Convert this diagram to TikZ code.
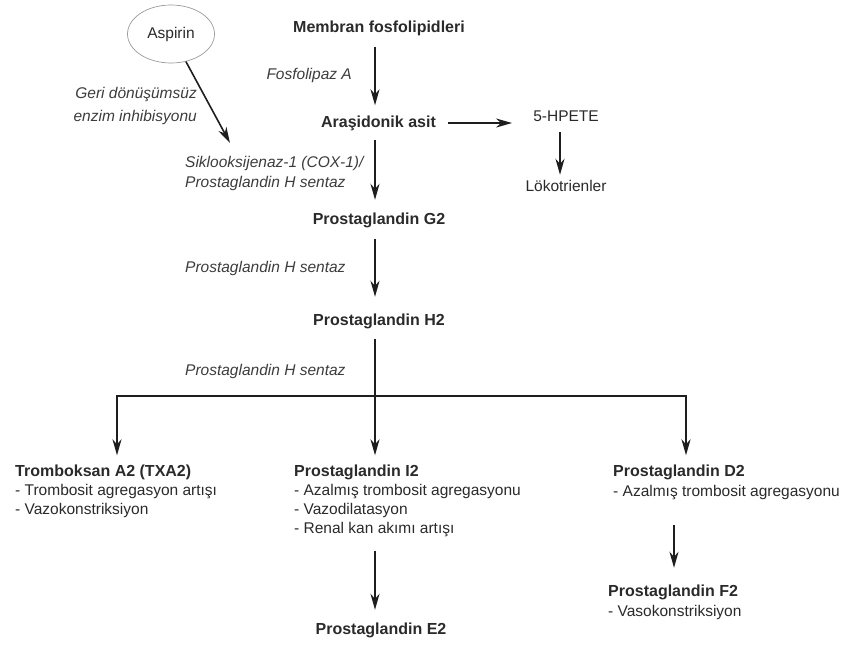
\documentclass[tikz,border=0pt]{standalone}
\usepackage{fontspec}
\setmainfont{Liberation Sans}
\usetikzlibrary{arrows.meta,shapes.geometric}
\definecolor{ink}{HTML}{1E1E1E}
\definecolor{txt}{HTML}{2A2A2A}
\definecolor{ital}{HTML}{3C3C3C}
\tikzset{
  every node/.style={inner sep=0pt, text height=12pt, text depth=3pt},
  title/.style={font=\fontsize{16}{19}\selectfont\bfseries, text=txt},
  plain/.style={font=\fontsize{15.5}{19}\selectfont, text=txt},
  enz/.style={font=\fontsize{15.5}{19}\selectfont\itshape, text=ital},
  arr/.style={draw=ink, line width=2pt, -{Stealth[length=16pt,width=9pt,inset=5pt]}},
  ln/.style={draw=ink, line width=2pt},
}
\begin{document}
\begin{tikzpicture}[x=1pt,y=-1pt]
\useasboundingbox (0,0) rectangle (850,646);
\coordinate (sp) at (375,0);
\coordinate (dx) at (674,0);
% top chain
\node[ellipse, draw=gray!80, line width=0.7pt, minimum width=87pt, minimum height=58pt, font=\fontsize{15.5}{19}\selectfont, text=txt] (asp) at (171,34) {Aspirin};
\node[title] (mem) at (379,28) {Membran fosfolipidleri};
\node[enz, anchor=east] (fos) at (352,75) {Fosfolipaz A};
\node[title] (ara) at (378.5,123) {Araşidonik asit};
\node[plain] (hpe) at (566,117) {5-HPETE};
\node[plain] (lok) at (566,187) {Lökotrienler};
\node[enz, anchor=east] (geri1) at (197,94) {Geri dönüşümsüz};
\node[enz, anchor=east] (geri2) at (197,117) {enzim inhibisyonu};
\coordinate (inh) at (230,143);
\node[enz, anchor=west] (cox1) at (185,163) {Siklooksijenaz-1 (COX-1)/};
\node[enz, anchor=west] (cox2) at (185,183) {Prostaglandin H sentaz};
\node[title] (g2) at (379,220) {Prostaglandin G2};
\node[enz, anchor=west] (phs1) at (185,268) {Prostaglandin H sentaz};
\node[title] (h2) at (379,321) {Prostaglandin H2};
\node[enz, anchor=west] (phs2) at (185,371) {Prostaglandin H sentaz};
\coordinate (j) at (375,396);
\coordinate (jl) at (117,396);
\coordinate (jr) at (686,396);
% bottom left
\node[title, anchor=west] (txa) at (15,472) {Tromboksan A2 (TXA2)};
\node[plain, anchor=west] (txa1) at (15,491) {- Trombosit agregasyon artışı};
\node[plain, anchor=west] (txa2) at (15,510) {- Vazokonstriksiyon};
% bottom middle
\node[title, anchor=west] (i2) at (294,472) {Prostaglandin I2};
\node[plain, anchor=west] (i2a) at (294,491) {- Azalmış trombosit agregasyonu};
\node[plain, anchor=west] (i2b) at (294,510) {- Vazodilatasyon};
\node[plain, anchor=west] (i2c) at (294,529) {- Renal kan akımı artışı};
\node[title] (e2) at (381,630) {Prostaglandin E2};
% bottom right
\node[title, anchor=west] (d2) at (613,472) {Prostaglandin D2};
\node[plain, anchor=west] (d2a) at (613,492) {- Azalmış trombosit agregasyonu};
\node[title, anchor=west] (f2) at (608,592) {Prostaglandin F2};
\node[plain, anchor=west] (f2a) at (608,612) {- Vasokonstriksiyon};
% connectors
\draw[arr, shorten <=11pt, shorten >=10pt] (mem.south -| sp) -- (ara.north -| sp);
\draw[arr, shorten <=12pt, shorten >=21pt] (ara.east) -- (hpe.west |- ara.east);
\draw[arr, shorten <=7.5pt, shorten >=4.5pt] ([xshift=-6pt]hpe.south) -- ([xshift=-6pt]lok.north);
\draw[arr, line width=1.6pt] (asp) -- (inh);
\draw[arr, shorten <=9.5pt, shorten >=12.5pt] (ara.south -| sp) -- (g2.north -| sp);
\draw[arr, shorten <=11.5pt, shorten >=16.5pt] (g2.south -| sp) -- (h2.north -| sp);
\draw[ln, shorten <=10.5pt] (h2.south -| sp) -- (j);
\draw[arr, shorten >=9pt] (j) -| (txa.north -| jl);
\draw[arr, shorten >=9pt] (j) -- (i2.north -| j);
\draw[arr, shorten >=9pt] (j) -| (d2.north -| jr);
\draw[arr, shorten <=14pt, shorten >=12.5pt] (i2c.south -| sp) -- (e2.north -| sp);
\draw[arr, shorten <=25pt, shorten >=16.5pt] (d2a.south -| dx) -- (f2.north -| dx);
\end{tikzpicture}
\end{document}
